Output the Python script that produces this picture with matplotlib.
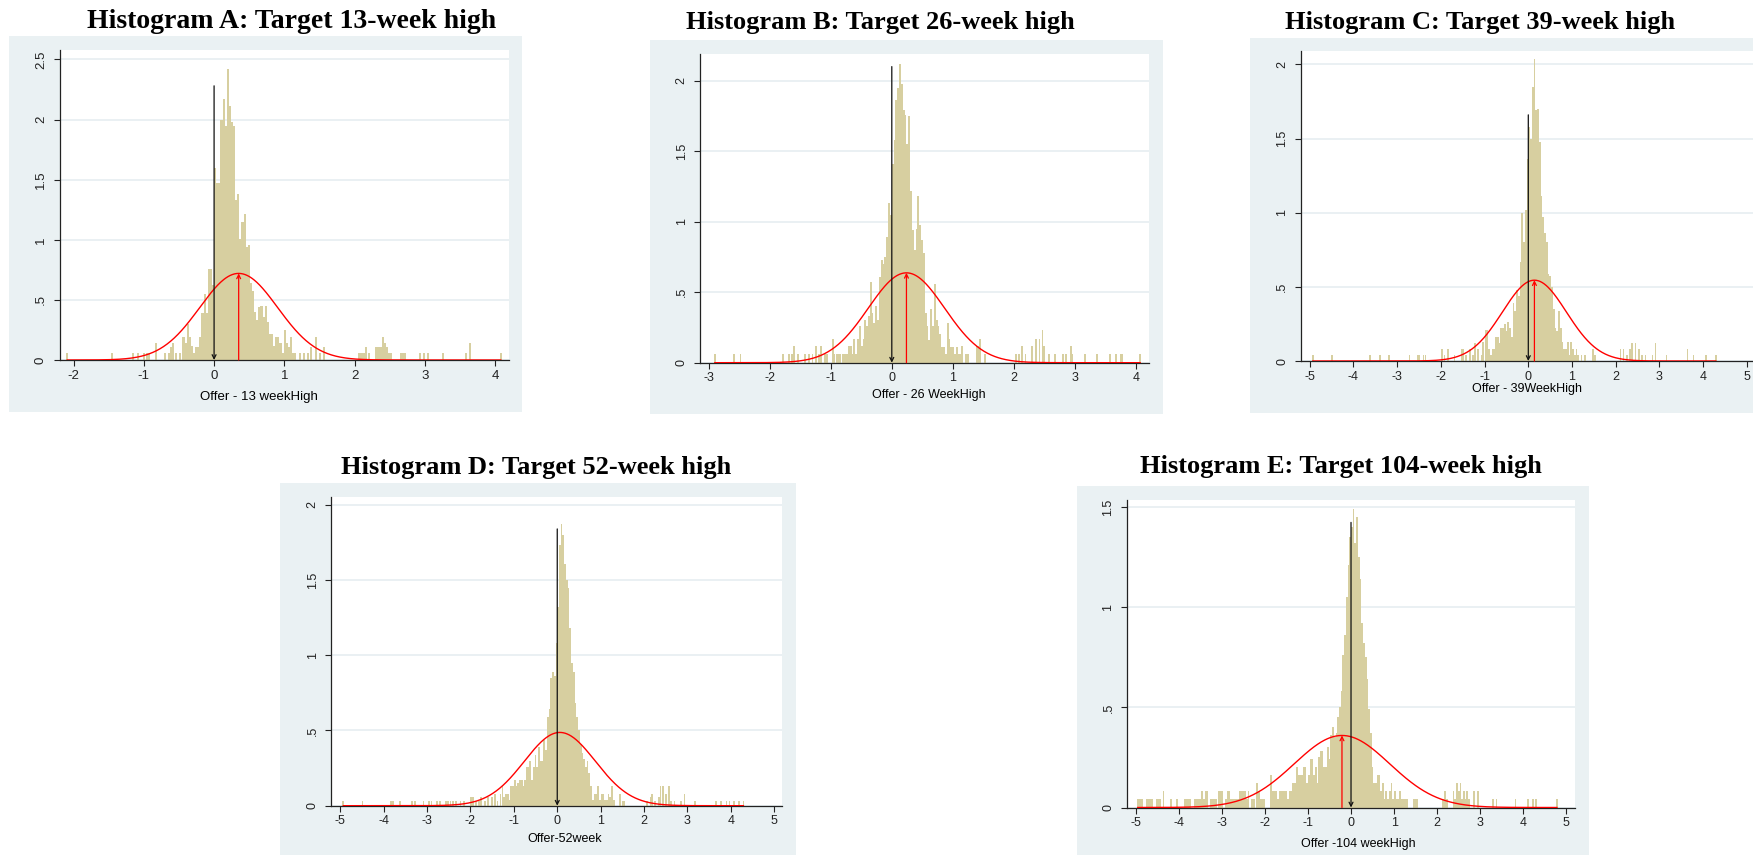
import numpy as np
import matplotlib
matplotlib.use("Agg")
import matplotlib.pyplot as plt
from matplotlib.patches import Rectangle

plt.rcParams['font.family'] = ['Liberation Sans', 'DejaVu Sans']

W, H = 1753, 855

# ---------------- data ----------------
titles = ["Histogram A: Target 13-week high", "Histogram B: Target 26-week high",
          "Histogram C: Target 39-week high", "Histogram D: Target 52-week high",
          "Histogram E: Target 104-week high"]
xlabels = ["Offer - 13 weekHigh", "Offer - 26 WeekHigh", "Offer - 39WeekHigh",
           "Offer-52week", "Offer -104 weekHigh"]

# panel A  (bin width 0.03, dense part starts at -0.45)
a_w, a_start = 0.03, -0.45
a_core = [0.19, 0.14, 0.30, 0.19, 0.12, 0.06, 0.11, 0.11, 0.19, 0.39,
          0.55, 0.39, 0.76, 0.76, 0.62, 1.60, 1.47, 1.47, 2.00, 2.17,
          1.95, 2.42, 2.11, 1.98, 1.95, 1.33, 1.38, 1.01, 1.15, 1.21,
          0.94, 0.96, 0.64, 0.57, 0.40, 0.33, 0.44, 0.45, 0.36, 0.45,
          0.32, 0.22, 0.22, 0.12, 0.19, 0.19, 0.14, 0.06, 0.25, 0.14,
          0.11, 0.19, 0.06, 0.06, 0.00]
a_tail_x = [-2.09, -1.45, -1.15, -1.08, -1.00, -0.95, -0.92, -0.83, -0.70, -0.64,
            -0.61, -0.58, -0.54, -0.49,
            1.22, 1.28, 1.34, 1.38, 1.45, 1.51, 1.56, 2.07, 2.10, 2.13,
            2.16, 2.20, 2.31, 2.34, 2.37, 2.40, 2.43, 2.46, 2.49, 2.52,
            2.66, 2.69, 2.72, 2.93, 2.99, 3.05, 3.26, 3.58, 3.64, 4.08]
a_tail_h = [0.06, 0.06, 0.06, 0.06, 0.06, 0.06, 0.06, 0.14, 0.06, 0.06,
            0.11, 0.14, 0.06, 0.06,
            0.06, 0.06, 0.06, 0.11, 0.19, 0.06, 0.11, 0.06, 0.06, 0.06,
            0.11, 0.06, 0.11, 0.11, 0.11, 0.19, 0.14, 0.11, 0.06, 0.06,
            0.06, 0.06, 0.06, 0.06, 0.06, 0.06, 0.06, 0.06, 0.14, 0.06]

# panel B
b_w, b_start = 0.03, -0.75
b_core = [0.06, 0.12, 0.12, 0.06, 0.17, 0.06, 0.17, 0.26, 0.12, 0.17,
          0.30, 0.26, 0.33, 0.57, 0.35, 0.28, 0.40, 0.30, 0.61, 0.73,
          0.70, 0.75, 0.89, 1.13, 1.05, 1.41, 1.58, 1.86, 1.95, 2.12,
          1.98, 1.79, 1.76, 1.55, 1.75, 1.22, 0.94, 0.80, 0.95, 1.18,
          0.98, 0.87, 0.78, 0.35, 0.26, 0.16, 0.38, 0.26, 0.56, 0.30,
          0.26, 0.20, 0.11, 0.11, 0.06, 0.28, 0.17, 0.11, 0.11, 0.06,
          0.11, 0.06, 0.06, 0.12, 0.00]
b_tail_x = [-2.90, -2.58, -2.48, -1.78, -1.69, -1.64, -1.60, -1.54, -1.42, -1.36,
            -1.30, -1.24, -1.19, -1.16, -1.10, -1.06, -0.97, -0.94, -0.90, -0.87,
            -0.84, -0.80, -0.77,
            1.22, 1.25, 1.39, 1.42, 1.45, 1.53, 2.03, 2.08, 2.14, 2.19,
            2.30, 2.37, 2.42, 2.47, 2.50, 2.58, 2.67, 2.80, 2.86, 2.93,
            2.96, 3.17, 3.36, 3.58, 3.67, 3.75, 3.78, 4.07]
b_tail_h = [0.06, 0.06, 0.06, 0.06, 0.06, 0.06, 0.12, 0.06, 0.06, 0.06,
            0.06, 0.12, 0.06, 0.12, 0.06, 0.06, 0.17, 0.06, 0.06, 0.06,
            0.06, 0.06, 0.06,
            0.06, 0.06, 0.12, 0.12, 0.17, 0.06, 0.06, 0.06, 0.12, 0.06,
            0.12, 0.17, 0.17, 0.23, 0.12, 0.06, 0.06, 0.06, 0.06, 0.12,
            0.06, 0.06, 0.06, 0.06, 0.06, 0.06, 0.06, 0.06]

# panel C
c_w, c_start = 0.04, -1.0
c_core = [0.21, 0.21, 0.08, 0.04, 0.08, 0.08, 0.16, 0.16, 0.12, 0.22,
          0.22, 0.25, 0.20, 0.26, 0.22, 0.16, 0.39, 0.34, 0.48, 0.44,
          0.67, 1.00, 0.80, 1.02, 1.36, 1.58, 1.50, 1.85, 2.04, 1.69,
          1.70, 1.48, 1.11, 0.97, 0.86, 0.80, 0.59, 0.57, 0.50, 0.35,
          0.22, 0.20, 0.34, 0.22, 0.13, 0.08, 0.08, 0.13, 0.04, 0.13,
          0.08, 0.04, 0.08, 0.04, 0.00]
c_tail_x = [-4.93, -4.50, -3.62, -3.39, -3.18, -2.72, -2.53, -2.49, -2.40, -2.35,
            -1.97, -1.92, -1.84, -1.69, -1.53, -1.49, -1.42, -1.34, -1.26, -1.22,
            -1.15, -1.07, -1.03,
            1.22, 1.30, 1.48, 1.53, 2.11, 2.18, 2.26, 2.32, 2.38, 2.45,
            2.53, 2.60, 2.68, 2.84, 2.91, 3.16, 3.64, 3.78, 4.06, 4.29]
c_tail_h = [0.04, 0.04, 0.04, 0.04, 0.04, 0.04, 0.04, 0.04, 0.04, 0.04,
            0.08, 0.04, 0.08, 0.04, 0.08, 0.08, 0.04, 0.08, 0.04, 0.12,
            0.08, 0.04, 0.13,
            0.04, 0.04, 0.08, 0.04, 0.08, 0.08, 0.04, 0.08, 0.12, 0.12,
            0.08, 0.04, 0.04, 0.04, 0.12, 0.04, 0.08, 0.04, 0.04, 0.04]

# panel D
d_w, d_start = 0.04, -1.2
d_core = [0.08, 0.08, 0.04, 0.13, 0.13, 0.17, 0.13, 0.15, 0.17, 0.17,
          0.13, 0.17, 0.26, 0.26, 0.30, 0.17, 0.26, 0.34, 0.26, 0.39,
          0.30, 0.30, 0.44, 0.37, 0.59, 0.64, 0.85, 0.89, 0.86, 1.08,
          1.32, 1.73, 1.87, 1.80, 1.61, 1.50, 1.45, 1.18, 0.95, 0.89,
          0.68, 0.59, 0.50, 0.41, 0.35, 0.31, 0.26, 0.30, 0.22, 0.13,
          0.04, 0.08, 0.08, 0.13, 0.04, 0.08, 0.08, 0.04, 0.04, 0.08]
d_tail_x = [-4.93, -4.49, -3.84, -3.78, -3.62, -3.34, -3.28, -3.08, -2.96, -2.90,
            -2.78, -2.70, -2.57, -2.52, -2.46, -2.40, -2.34, -2.23, -2.15, -1.99,
            -1.95, -1.87, -1.80, -1.75, -1.67, -1.59, -1.51, -1.43, -1.38, -1.31,
            -1.26, -1.22,
            1.22, 1.26, 1.30, 1.45, 1.51, 1.55, 2.07, 2.15, 2.19, 2.25,
            2.34, 2.38, 2.44, 2.50, 2.57, 2.62, 2.70, 2.86, 2.93, 3.18,
            3.66, 3.78, 3.90, 3.97, 4.08, 4.19, 4.29]
d_tail_h = [0.03, 0.03, 0.03, 0.03, 0.03, 0.03, 0.03, 0.03, 0.03, 0.03,
            0.03, 0.03, 0.03, 0.03, 0.03, 0.03, 0.03, 0.03, 0.03, 0.06,
            0.06, 0.03, 0.03, 0.06, 0.03, 0.06, 0.06, 0.08, 0.03, 0.08,
            0.13, 0.06,
            0.06, 0.13, 0.04, 0.08, 0.03, 0.03, 0.03, 0.06, 0.08, 0.03,
            0.06, 0.13, 0.13, 0.08, 0.13, 0.03, 0.03, 0.03, 0.08, 0.03,
            0.03, 0.03, 0.03, 0.03, 0.03, 0.03, 0.03]

# panel E
e_w, e_start = 0.04, -1.2
e_core = [0.16, 0.16, 0.20, 0.20, 0.12, 0.16, 0.24, 0.24, 0.16, 0.20,
          0.12, 0.25, 0.28, 0.28, 0.20, 0.20, 0.30, 0.24, 0.36, 0.40,
          0.35, 0.37, 0.45, 0.50, 0.58, 0.76, 0.86, 1.05, 1.21, 1.35,
          1.40, 1.49, 1.32, 1.45, 1.25, 1.14, 0.92, 0.82, 0.75, 0.64,
          0.49, 0.37, 0.20, 0.12, 0.12, 0.16, 0.16, 0.08, 0.12, 0.04,
          0.08, 0.04, 0.08, 0.12, 0.04]
e_tail_x = [-4.94, -4.90, -4.86, -4.74, -4.70, -4.66, -4.62, -4.50, -4.46, -4.42,
            -4.35, -4.18, -4.04, -3.86, -3.82, -3.78, -3.74, -3.62, -3.58, -3.54,
            -3.50, -3.46, -3.42, -3.38, -3.34, -3.26, -3.22, -3.18, -3.14, -3.06,
            -3.02, -2.98, -2.90, -2.86, -2.82, -2.78, -2.74, -2.70, -2.66, -2.62,
            -2.58, -2.54, -2.50, -2.46, -2.42, -2.38, -2.30, -2.26, -2.18, -2.14,
            -2.10, -2.06, -2.02, -1.86, -1.82, -1.78, -1.74, -1.70, -1.66, -1.62,
            -1.58, -1.54, -1.50, -1.46, -1.42, -1.38, -1.34, -1.30, -1.26, -1.22,
            1.02, 1.06, 1.10, 1.14, 1.18, 1.22, 1.26, 1.30, 1.46, 1.50,
            1.54, 2.14, 2.18, 2.22, 2.38, 2.42, 2.46, 2.50, 2.54, 2.58,
            2.62, 2.66, 2.70, 2.74, 2.86, 2.94, 3.30, 3.38, 3.82, 4.10,
            4.22, 4.30, 4.78]
e_tail_h = [0.04, 0.04, 0.04, 0.04, 0.04, 0.04, 0.04, 0.04, 0.04, 0.04,
            0.08, 0.04, 0.04, 0.04, 0.04, 0.04, 0.04, 0.04, 0.04, 0.04,
            0.04, 0.08, 0.04, 0.08, 0.08, 0.04, 0.04, 0.04, 0.04, 0.08,
            0.08, 0.08, 0.04, 0.08, 0.08, 0.04, 0.04, 0.04, 0.04, 0.04,
            0.08, 0.08, 0.08, 0.08, 0.04, 0.08, 0.04, 0.04, 0.12, 0.08,
            0.04, 0.04, 0.04, 0.16, 0.08, 0.08, 0.08, 0.04, 0.08, 0.08,
            0.08, 0.08, 0.08, 0.04, 0.08, 0.08, 0.12, 0.12, 0.20, 0.16,
            0.08, 0.04, 0.04, 0.08, 0.04, 0.04, 0.04, 0.04, 0.04, 0.04,
            0.04, 0.04, 0.08, 0.04, 0.08, 0.04, 0.12, 0.08, 0.12, 0.04,
            0.08, 0.04, 0.08, 0.04, 0.08, 0.08, 0.04, 0.04, 0.04, 0.04,
            0.04, 0.04, 0.04]

# fitted normal (mean, sd), data range, and the height of the black marker at 0
norm_mu = [0.35, 0.24, 0.14, 0.06, -0.21]
norm_sd = [0.554, 0.626, 0.732, 0.819, 1.108]
data_lo = [-2.09, -2.90, -4.93, -4.93, -4.95]
data_hi = [4.08, 4.07, 4.29, 4.29, 4.78]
zero_mark = [2.28, 2.10, 1.66, 1.84, 1.425]
mean_arrow = [True, True, True, False, True]

xticks = [list(range(-2, 5)), list(range(-3, 5)), list(range(-5, 6)),
          list(range(-5, 6)), list(range(-5, 6))]
yticks = [[0, 0.5, 1, 1.5, 2, 2.5], [0, 0.5, 1, 1.5, 2], [0, 0.5, 1, 1.5, 2],
          [0, 0.5, 1, 1.5, 2], [0, 0.5, 1, 1.5]]
ytick_labels = [["0", ".5", "1", "1.5", "2", "2.5"], ["0", ".5", "1", "1.5", "2"],
                ["0", ".5", "1", "1.5", "2"], ["0", ".5", "1", "1.5", "2"],
                ["0", ".5", "1", "1.5"]]

# ---------------- layout (pixels, y from top) ----------------
bg_box = [(8.5, 36.5, 522, 411.7), (649.5, 40.3, 1162.7, 413.9), (1249.5, 37.6, 1780, 412.6),
          (280.4, 483.3, 796, 860), (1076.5, 485.9, 1589, 860)]
plot_box = [(59.5, 50, 508.5, 360), (700.2, 53.9, 1149.3, 362.7), (1300.6, 50.8, 1756, 361),
            (331.2, 496.6, 782, 805.7), (1127, 499.8, 1574.6, 807.5)]
xlims = [(-2.2, 4.19), (-3.14, 4.22), (-5.21, 5.21), (-5.21, 5.18), (-5.2, 5.19)]
ylims = [(0, 2.578), (0, 2.19), (0, 2.092), (0, 2.055), (0, 1.538)]
title_pos = [(292, 28.5), (879.9, 28.5), (1480, 28.5), (535.7, 473.9), (1341.3, 473)]
title_size = [20, 19, 19, 19, 19]
text_size = [9.5, 9, 9, 9, 9]
xlabel_pos = [(258.6, 396.7), (929, 395.4), (1527.3, 388.6), (564.2, 839), (1358.5, 843.8)]

BG = '#eaf1f3'
GRID = '#e6eef1'
BAR = '#d7cfa0'

bins = [(a_w, a_start, a_core, a_tail_x, a_tail_h),
        (b_w, b_start, b_core, b_tail_x, b_tail_h),
        (c_w, c_start, c_core, c_tail_x, c_tail_h),
        (d_w, d_start, d_core, d_tail_x, d_tail_h),
        (e_w, e_start, e_core, e_tail_x, e_tail_h)]


def frac(box):
    x0, y0, x1, y1 = box
    return [x0 / W, 1 - y1 / H, (x1 - x0) / W, (y1 - y0) / H]


fig = plt.figure(figsize=(W / 100, H / 100), dpi=100)
fig.patch.set_facecolor('white')

for i in range(5):
    r = frac(bg_box[i])
    fig.add_artist(Rectangle((r[0], r[1]), r[2], r[3], transform=fig.transFigure,
                             facecolor=BG, edgecolor='none', zorder=0))
    ax = fig.add_axes(frac(plot_box[i]))
    ax.set_facecolor('white')

    w, start, core, tx, th = bins[i]
    centers = start + w * (np.arange(len(core)) + 0.5)
    ax.bar(centers, core, width=w, color=BAR, linewidth=0, zorder=2)
    ax.bar(tx, th, width=w, color=BAR, linewidth=0, zorder=2)

    # normal overlay
    mu, sd = norm_mu[i], norm_sd[i]
    xs = np.linspace(data_lo[i], data_hi[i], 600)
    ys = np.exp(-0.5 * ((xs - mu) / sd) ** 2) / (sd * np.sqrt(2 * np.pi))
    ax.plot(xs, ys, color='red', lw=1.0, zorder=4)
    peak = 1 / (sd * np.sqrt(2 * np.pi))

    # markers
    ax.annotate('', xy=(0, 0), xytext=(0, zero_mark[i]),
                arrowprops=dict(arrowstyle='->', color='#111111', lw=0.9,
                                shrinkA=0, shrinkB=0, mutation_scale=7), zorder=5)
    if mean_arrow[i]:
        ax.annotate('', xy=(mu, peak), xytext=(mu, 0),
                    arrowprops=dict(arrowstyle='->', color='red', lw=0.9,
                                    shrinkA=0, shrinkB=0, mutation_scale=7), zorder=5)

    ax.set_xlim(*xlims[i])
    ax.set_ylim(*ylims[i])
    ax.set_xticks(xticks[i])
    ax.set_xticklabels([str(v) for v in xticks[i]])
    ax.set_yticks(yticks[i])
    ax.set_yticklabels(ytick_labels[i], rotation=90, va='center')
    ax.yaxis.grid(True, color=GRID, lw=1.2)
    ax.set_axisbelow(True)
    for s in ['top', 'right']:
        ax.spines[s].set_visible(False)
    for s in ['left', 'bottom']:
        ax.spines[s].set_color('#222222')
        ax.spines[s].set_linewidth(0.9)
    ax.tick_params(axis='both', direction='out', length=4, width=0.8,
                   colors='#222222', labelsize=text_size[i])
    ax.tick_params(axis='x', pad=3)
    ax.tick_params(axis='y', pad=5)

    tx_, ty_ = title_pos[i]
    fig.text(tx_ / W, 1 - ty_ / H, titles[i], ha='center', va='baseline',
             fontsize=title_size[i], fontweight='bold', family='Liberation Serif')
    lx, ly = xlabel_pos[i]
    fig.text(lx / W, 1 - ly / H, xlabels[i], ha='center', va='center',
             fontsize=text_size[i])

fig.savefig('out.png', dpi=100, facecolor='white')
